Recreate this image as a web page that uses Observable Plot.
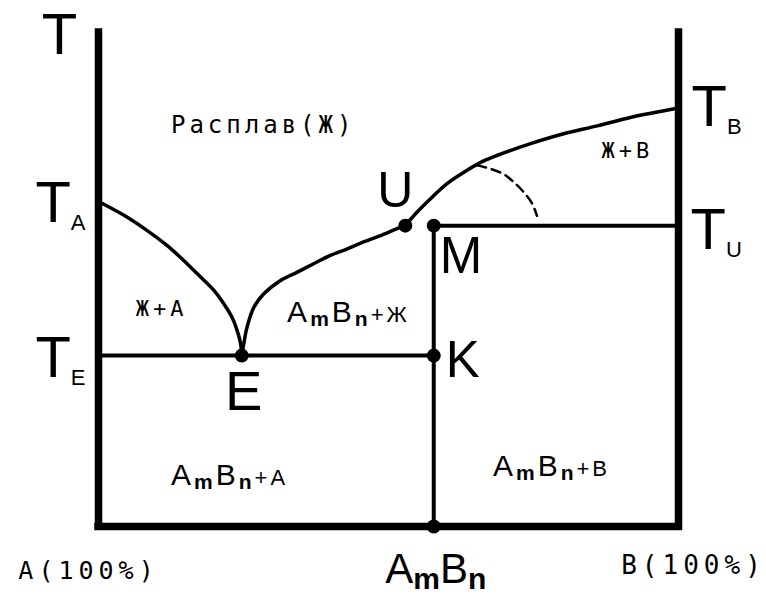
<!DOCTYPE html>
<html><head><meta charset="utf-8">
<script src="https://cdn.jsdelivr.net/npm/d3@7"></script>
<script src="https://cdn.jsdelivr.net/npm/@observablehq/plot@0.6"></script>
<style>
body{margin:0;background:#fff}
g[aria-description="mono-region"] text{letter-spacing:4px}
g[aria-description="mono-comp"] text{letter-spacing:5px}
g[aria-description="phase-region"] text{letter-spacing:3px}
</style></head><body><div id="chart"></div>
<script>
// ---- data (composition in % B, temperature in relative units) ----
const xA = 0, xB = 100, xE = 24.7, xU = 52.9, xAmBn = 57.8;
const tBase = 0, tTop = 100, tA = 65.8, tB = 84.7, tU = 60.9, tE = 34.6;

const compositionLabels = ["A(100%)", "A_mB_n", "B(100%)"];
const compositionValues = [xA, xAmBn, xB];

const temperatureLabels = ["T", "T_A", "T_E", "T_B", "T_U"];
const temperatureValues = [tTop, tA, tE, tB, tU];

// liquidus of A: T_A -> E
const liquidusA = [[xA,tA],[4.4,63.0],[8.4,59.9],[11.8,56.9],[14.1,54.5],[17.0,51.2],[19.9,47.8],[21.6,45.1],[23.0,42.4],[23.9,39.7],[24.5,37.0],[xE,tE]];
// liquidus of AmBn: E -> U
const liquidusEU = [[xE,tE],[25.05,37.0],[25.6,40.3],[26.8,44.4],[28.5,47.1],[31.4,49.8],[34.3,51.5],[37.1,53.2],[40.0,54.9],[42.9,56.2],[45.7,57.6],[48.6,58.9],[51.5,60.3],[xU,tU]];
// liquidus of B: U -> T_B
const liquidusUB = [[xU,tU],[54.9,63.6],[57.2,66.3],[60.1,69.4],[63.0,71.7],[65.9,73.7],[68.7,75.1],[74.5,77.5],[80.2,79.5],[86.0,81.1],[91.7,82.8],[xB,tB]];
// metastable continuation (dashed)
const metastable = [[65.3,73.1],[67.6,72.4],[69.9,71.3],[71.6,69.7],[73.3,67.7],[74.8,65.3],[75.6,62.9]];

const pointNames = ["E", "U", "M", "K", ""];
const pointX = [xE, xU, xAmBn, xAmBn, xAmBn];
const pointT = [tE, tU, tU, tE, tBase];

const regionLabels = ["Расплав(Ж)", "Ж+A", "Ж+B", "A_mB_n+Ж", "A_mB_n+A", "A_mB_n+B"];
const regionX = [28.4, 10.9, 91.2, 43.1, 22.6, 78.1];
const regionT = [79.6, 42.7, 74.5, 41.3, 8.3, 10.3];

// ---- tables built from the arrays ----
const comps = compositionLabels.map((name, i) => ({name, x: compositionValues[i]}));
const temps = temperatureLabels.map((name, i) => ({name, t: temperatureValues[i]}));
const points = pointNames.map((name, i) => ({name, x: pointX[i], t: pointT[i]}));
const regions = regionLabels.map((name, i) => ({name, x: regionX[i], t: regionT[i]}));
const horizontals = [{t: tE, x1: xA, x2: xAmBn}, {t: tU, x1: xAmBn, x2: xB}];
const verticals = [{x: xAmBn, t1: tBase, t2: tU}];
const frameV = [{x: xA, t1: tBase, t2: tTop}, {x: xB, t1: tBase, t2: tTop}];
const frameH = [{t: tBase, x1: xA, x2: xB}];

const sans = "Liberation Sans, Arial, sans-serif";
const mono = "DejaVu Sans Mono, monospace";
const byName = (arr, names) => arr.filter(d => names.includes(d.name));

const curve = (data, extra = {}) => Plot.line(data, {x: d => d[0], y: d => d[1], curve: "catmull-rom", stroke: "black", strokeWidth: 3.5, ...extra});

const chart = Plot.plot({
  width: 766, height: 597,
  marginLeft: 98, marginRight: 88, marginTop: 32, marginBottom: 71,
  x: {domain: [0, 100], axis: null},
  y: {domain: [0, 100], axis: null},
  style: {background: "white", overflow: "visible"},
  marks: [
    Plot.ruleX(frameV, {x: "x", y1: "t1", y2: "t2", strokeWidth: 7.5, strokeLinecap: "square"}),
    Plot.ruleY(frameH, {y: "t", x1: "x1", x2: "x2", strokeWidth: 7.5, strokeLinecap: "square"}),
    Plot.ruleY(horizontals, {y: "t", x1: "x1", x2: "x2", strokeWidth: 4}),
    Plot.ruleX(verticals, {x: "x", y1: "t1", y2: "t2", strokeWidth: 4}),
    curve(liquidusA),
    curve(liquidusEU),
    curve(liquidusUB),
    curve(metastable, {strokeWidth: 2.5, strokeDasharray: "9,6"}),
    Plot.dot(points, {x: "x", y: "t", r: 7, fill: "black"}),
    // point labels
    Plot.text(byName(points, ["E"]), {x: "x", y: "t", text: "name", fontFamily: sans, fontSize: 56, lineAnchor: "bottom", dx: 2, dy: 54}),
    Plot.text(byName(points, ["U"]), {x: "x", y: "t", text: "name", fontFamily: sans, fontSize: 50, lineAnchor: "bottom", dx: -10, dy: -19}),
    Plot.text(byName(points, ["M"]), {x: "x", y: "t", text: "name", fontFamily: sans, fontSize: 51, lineAnchor: "bottom", textAnchor: "start", dx: 6, dy: 47}),
    Plot.text(byName(points, ["K"]), {x: "x", y: "t", text: "name", fontFamily: sans, fontSize: 51, lineAnchor: "bottom", textAnchor: "start", dx: 12, dy: 21}),
    // temperature labels
    Plot.text(byName(temps, ["T"]), {x: () => xA, y: "t", text: "name", fontFamily: sans, fontSize: 58, lineAnchor: "bottom", dx: -39, dy: 21}),
    Plot.text(byName(temps, ["T_A", "T_E"]), {x: () => xA, y: "t", text: "name", fontFamily: sans, fontSize: 58, lineAnchor: "bottom", textAnchor: "end", dx: -13, dy: 21, ariaDescription: "temp-labels"}),
    Plot.text(byName(temps, ["T_B"]), {x: () => xB, y: "t", text: "name", fontFamily: sans, fontSize: 58, lineAnchor: "bottom", textAnchor: "start", dx: 13, dy: 18, ariaDescription: "temp-labels"}),
    Plot.text(byName(temps, ["T_U"]), {x: () => xB, y: "t", text: "name", fontFamily: sans, fontSize: 58, lineAnchor: "bottom", textAnchor: "start", dx: 12, dy: 23, ariaDescription: "temp-labels"}),
    // composition labels
    Plot.text(byName(comps, ["A(100%)"]), {x: "x", y: () => tBase, text: "name", fontFamily: mono, fontSize: 25, lineAnchor: "bottom", dx: -10, dy: 52, ariaDescription: "mono-comp"}),
    Plot.text(byName(comps, ["B(100%)"]), {x: "x", y: () => tBase, text: "name", fontFamily: mono, fontSize: 26, lineAnchor: "bottom", dx: 15, dy: 47, ariaDescription: "mono-comp"}),
    Plot.text(byName(comps, ["A_mB_n"]), {x: "x", y: () => tBase, text: "name", fontFamily: sans, fontSize: 42, lineAnchor: "bottom", dx: 2, dy: 56, ariaDescription: "comp-formula"}),
    // region labels
    Plot.text(regions.filter(d => !d.name.includes("_")), {x: "x", y: "t", text: "name", fontFamily: mono, fontSize: d => d.name.length > 5 ? 24 : 22, lineAnchor: "bottom", ariaDescription: "mono-region"}),
    Plot.text(regions.filter(d => d.name.includes("_")), {x: "x", y: "t", text: "name", fontFamily: sans, fontSize: 30, lineAnchor: "bottom", ariaDescription: "phase-region"})
  ]
});

// subscripts / smaller trailing part as real tspans
function rich(label, o) {
  d3.select(chart).selectAll(`g[aria-description="${label}"] text`).each(function () {
    const el = d3.select(this);
    const s = el.text();
    const parts = s.match(/_.|\+.*|[^_+]+/g);
    if (!parts) return;
    el.text(null);
    let offset = 0;
    for (const p of parts) {
      const t = el.append("tspan");
      let target = 0;
      if (p[0] === "_") {
        t.text(p.slice(1)).attr("font-size", o.sub).attr("font-weight", o.subWeight || null);
        target = o.shift;
      } else if (p[0] === "+" && o.tail) {
        t.text(p).attr("font-size", o.tail);
      } else t.text(p);
      if (target !== offset) { t.attr("dy", target - offset); offset = target; }
    }
  });
}
rich("temp-labels", {sub: 22, shift: 8});
rich("comp-formula", {sub: 30, shift: 6, subWeight: "bold"});
rich("phase-region", {sub: 21, shift: 4, subWeight: "bold", tail: 22});

document.getElementById("chart").append(chart);
</script></body></html>
